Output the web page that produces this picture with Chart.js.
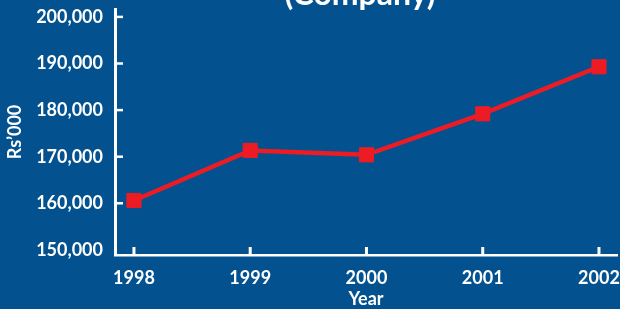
<!DOCTYPE html>
<html>
<head>
<meta charset="utf-8">
<script src="https://cdn.jsdelivr.net/npm/chart.js@4/dist/chart.umd.min.js"></script>
<style>
  body { margin: 0; background: #03528f; }
  #wrap { width: 620px; height: 309px; }
</style>
</head>
<body>
<div id="wrap"><canvas id="lineChart" width="620" height="309"></canvas></div>
<script>
const years = [1998, 1999, 2000, 2001, 2002];
const revenue = [160600, 171350, 170400, 179200, 189300];
const yTicks = [150000, 160000, 170000, 180000, 190000, 200000];
const chartTitle = '(Company)';

const white = '#ffffff';
const red = '#ed1c24';
const font = { family: 'Lato, "Open Sans", sans-serif', weight: 'bold', size: 18 };

// short inward tick marks + cut-off title at the top
const extras = {
    id: 'extras',
    afterDraw(chart) {
        const ctx = chart.ctx;
        const x = chart.scales.x, y = chart.scales.y;
        const area = chart.chartArea;
        ctx.save();
        ctx.strokeStyle = white;
        ctx.lineWidth = 2.5;
        yTicks.slice(1).forEach(v => {
            const py = y.getPixelForValue(v);
            ctx.beginPath();
            ctx.moveTo(area.left, py);
            ctx.lineTo(area.left + 8, py);
            ctx.stroke();
        });
        ctx.lineWidth = 3;
        years.forEach(v => {
            const px = x.getPixelForValue(v);
            ctx.beginPath();
            ctx.moveTo(px, area.bottom);
            ctx.lineTo(px, area.bottom - 8);
            ctx.stroke();
        });
        ctx.fillStyle = white;
        ctx.font = 'bold 32px Lato, "Open Sans", sans-serif';
        ctx.textAlign = 'center';
        ctx.textBaseline = 'alphabetic';
        ctx.fillText(chartTitle, 360, 5);
        ctx.restore();
    }
};

new Chart(document.getElementById('lineChart'), {
    type: 'line',
    data: {
        datasets: [{
            label: 'Revenue',
            data: years.map((yr, i) => ({ x: yr, y: revenue[i] })),
            borderColor: red,
            backgroundColor: red,
            borderWidth: 4.5,
            pointStyle: 'rect',
            pointRadius: 10,
            pointBorderWidth: 1,
            pointBorderColor: red,
            pointBackgroundColor: red,
            tension: 0,
            clip: false
        }]
    },
    options: {
        responsive: false,
        animation: false,
        layout: { autoPadding: false, padding: { top: 9, right: 3, left: 0, bottom: 0 } },
        plugins: {
            legend: { display: false },
            tooltip: { enabled: false }
        },
        scales: {
            x: {
                type: 'linear',
                min: 1997.837,
                max: 2002.155,
                afterBuildTicks: axis => { axis.ticks = years.map(v => ({ value: v })); },
                afterFit: axis => {
                    axis.height = 54;
                    axis.paddingLeft = 0;
                    axis.paddingRight = 0;
                },
                grid: { display: false, drawTicks: false },
                border: { display: true, color: white, width: 2.5 },
                ticks: {
                    color: white,
                    font: font,
                    padding: 12,
                    maxRotation: 0,
                    callback: v => String(v)
                },
                title: {
                    display: true,
                    text: 'Year',
                    color: white,
                    font: font,
                    padding: { top: 0, bottom: -1 }
                }
            },
            y: {
                min: 148900,
                max: 201700,
                afterBuildTicks: axis => { axis.ticks = yTicks.map(v => ({ value: v })); },
                afterFit: axis => {
                    axis.width = 115;
                    axis.paddingTop = 0;
                    axis.paddingBottom = 0;
                },
                grid: { display: false, drawTicks: false },
                border: { display: true, color: white, width: 3 },
                ticks: {
                    color: white,
                    font: font,
                    padding: 12,
                    callback: v => v.toLocaleString('en-US')
                },
                title: {
                    display: true,
                    text: 'Rs’000',
                    color: white,
                    font: font,
                    padding: { top: 4, bottom: 0 }
                }
            }
        }
    },
    plugins: [extras]
});
</script>
</body>
</html>
